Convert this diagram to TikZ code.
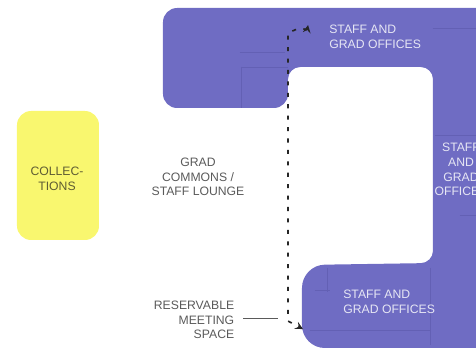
\documentclass[tikz,border=0pt]{standalone}
\usepackage{xcolor}
\usepackage{fontspec}
\setmainfont{Liberation Sans}
\definecolor{wingblue}{HTML}{6F6CC3}
\definecolor{planblue}{HTML}{6360B4}
\definecolor{collyellow}{HTML}{F9F76F}
\definecolor{labelgray}{HTML}{5A5A5A}
\definecolor{collgray}{HTML}{5E5C33}
\definecolor{officewhite}{HTML}{E6E6F4}
\tikzset{
  every node/.append style={inner sep=0pt, font=\fontsize{6.95}{8.4}\selectfont},
  planline/.style={planblue, line width=0.4pt},
  officelabel/.style={text=officewhite, align=left},
  roomlabel/.style={text=labelgray, align=center},
  walkway/.style={black!85, line width=0.95pt, dash pattern=on 2.3pt off 4.2pt, stealth-stealth},
}
\begin{document}
\begin{tikzpicture}[scale=0.02]
\useasboundingbox (0,0) rectangle (476,-349);
\clip (0,0) rectangle (476,-349);
% collections block
\fill [collyellow, rounded corners=8pt] (17,-111) rectangle (99,-240);
\node [text=collgray, align=center] (collections) at (57,-179) {COLLEC-\\TIONS};
% office wings
\fill [wingblue, rounded corners=7pt] (163,-8) -- (492,-8) -- (492,-348)
  [rounded corners=13pt] -- (302,-348) -- (302,-265)
  [rounded corners=7pt] -- (433,-263) -- (433,-67) -- (288,-67)
  [rounded corners=8pt] -- (288,-108) -- (163,-108) -- cycle;
\draw [planline] (241,-67) -- (241,-108);
\draw [planline] (241,-67) -- (288,-67);
\draw [planline] (240,-52) -- (285,-52);
\draw [planline] (435,-135) -- (476,-135);
\draw [planline] (433,-28) -- (476,-28);
\draw [planline] (310,-330) -- (430,-330);
\draw [planline] (327,-268) -- (327,-292);
\draw [planline] (430,-268) -- (430,-345);
\draw [planline] (315,-290) -- (330,-290);
\draw [planline] (460,-215) -- (476,-215);
% office labels
\node [officelabel, anchor=west] (officestop) at (329,-37) {STAFF AND\\GRAD OFFICES};
\node [officelabel, align=center] (officesright) at (461,-169.5) {STAFF\\AND\\GRAD\\OFFICES};
\node [officelabel, anchor=west] (officesbottom) at (343,-301.5) {STAFF AND\\GRAD OFFICES};
% room labels
\node [roomlabel] (commons) at (198,-177) {GRAD\\COMMONS /\\STAFF LOUNGE};
\node [roomlabel, align=right, anchor=east, outer xsep=5pt] (meeting) at (243,-320) {RESERVABLE\\MEETING\\SPACE};
% connectors
\coordinate (walktop) at (308,-25);
\coordinate (walkbend) at (288,-33);
\coordinate (walklow) at (288,-321);
\coordinate (walkend) at (303,-329);
\coordinate (meetingend) at (278,-318);
\draw [walkway] (walktop) to [out=-100,in=10] (297,-29) -- (walkbend) -- (walklow) -- (walkend);
\draw [labelgray, line width=0.4pt] (meeting.east |- meetingend) -- (meetingend);
\end{tikzpicture}
\end{document}
